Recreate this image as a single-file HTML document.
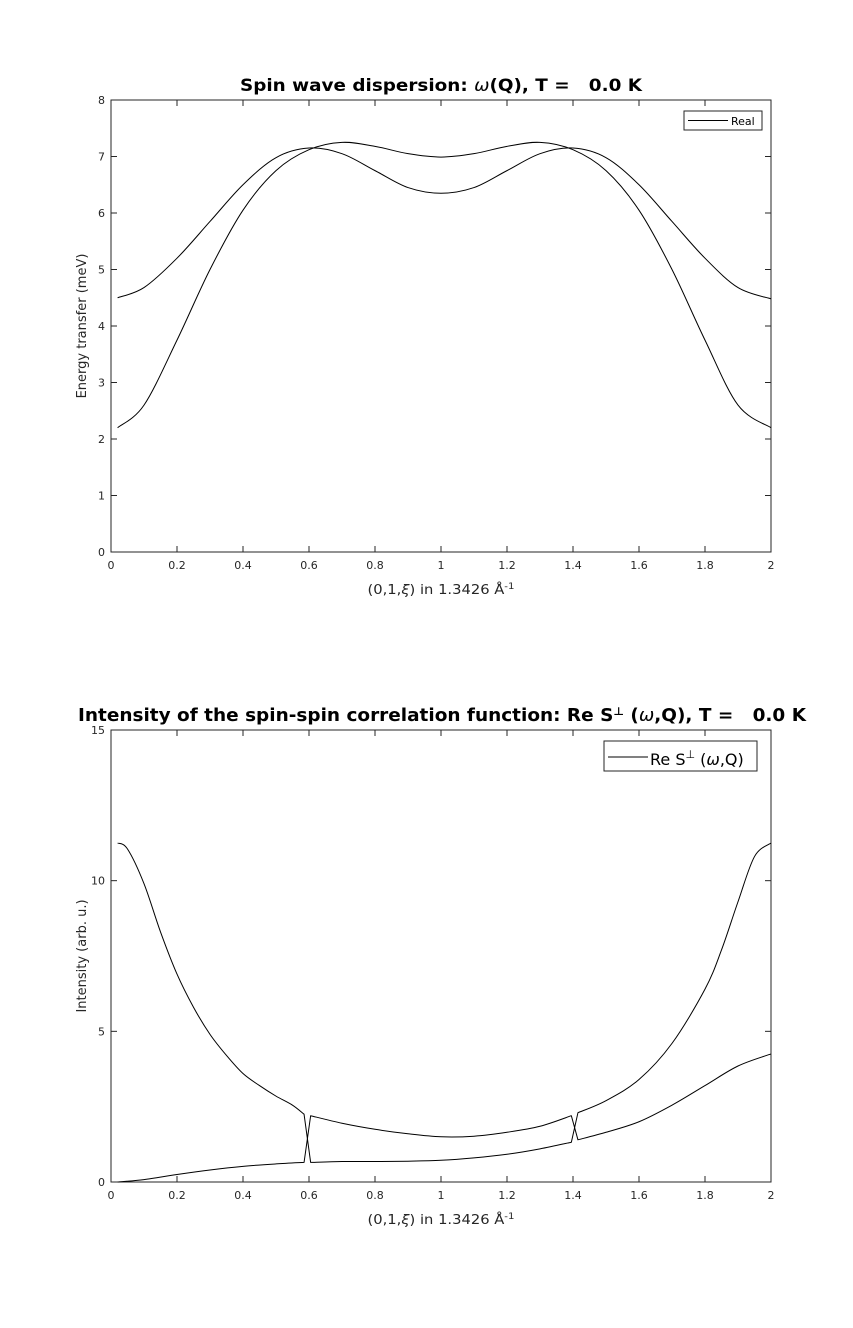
<!DOCTYPE html>
<html><head><meta charset="utf-8"><style>
body{margin:0;background:#fff;}
svg{display:block;font-family:"DejaVu Sans","Liberation Sans",sans-serif;}
text{white-space:pre;}
</style></head><body>
<svg id="fig" width="853" height="1328" viewBox="0 0 853 1328"></svg>
<script>
// Top chart data (dispersion)
const topX = [0.02,0.1,0.2,0.3,0.4,0.5,0.6,0.7,0.8,0.9,1.0,1.1,1.2,1.3,1.4,1.5,1.6,1.7,1.8,1.9,2.0];
const branch1 = [4.5,4.68,5.2,5.85,6.5,6.98,7.15,7.05,6.75,6.45,6.35,6.45,6.75,7.05,7.15,6.98,6.5,5.85,5.2,4.68,4.48];
const branch2 = [2.2,2.6,3.75,5.0,6.05,6.75,7.12,7.25,7.18,7.05,6.99,7.05,7.18,7.25,7.12,6.75,6.05,5.0,3.75,2.6,2.2];
const topXTicks = ["0","0.2","0.4","0.6","0.8","1","1.2","1.4","1.6","1.8","2"];
const topYTicks = ["0","1","2","3","4","5","6","7","8"];
// Bottom chart data (intensity)
const botXA = [0.02,0.05,0.1,0.15,0.2,0.25,0.3,0.35,0.4,0.45,0.5,0.55,0.585,0.605,0.7,0.8,0.9,1.0,1.1,1.2,1.3,1.395,1.415,1.5,1.6,1.7,1.8,1.85,1.9,1.95,2.0];
const seriesA = [11.25,11.05,9.9,8.3,6.9,5.8,4.9,4.2,3.6,3.2,2.85,2.55,2.25,0.65,0.68,0.68,0.69,0.72,0.8,0.92,1.1,1.32,2.3,2.7,3.4,4.6,6.4,7.7,9.3,10.8,11.25];
const botXB = [0.02,0.1,0.2,0.3,0.4,0.5,0.585,0.605,0.7,0.8,0.9,1.0,1.1,1.2,1.3,1.395,1.415,1.5,1.6,1.7,1.8,1.9,2.0];
const seriesB = [0,0.08,0.25,0.4,0.52,0.6,0.65,2.2,1.95,1.75,1.6,1.5,1.52,1.65,1.85,2.2,1.4,1.65,2.0,2.55,3.2,3.85,4.25];
const botYTicks = ["0","5","10","15"];

const NS="http://www.w3.org/2000/svg";
const svg=document.getElementById('fig');
function mk(tag,attrs,parent){const e=document.createElementNS(NS,tag);for(const k in attrs)e.setAttribute(k,attrs[k]);(parent||svg).appendChild(e);return e;}

function smoothSeg(pts){let d=`M${pts[0][0]},${pts[0][1]}`;for(let i=0;i<pts.length-1;i++){const p0=pts[i-1]||pts[i],p1=pts[i],p2=pts[i+1],p3=pts[i+2]||p2;
d+=` C${p1[0]+(p2[0]-p0[0])/6},${p1[1]+(p2[1]-p0[1])/6} ${p2[0]-(p3[0]-p1[0])/6},${p2[1]-(p3[1]-p1[1])/6} ${p2[0]},${p2[1]}`;}return d;}
function jumpPath(xs,ys,sx,sy){let segs=[[]];for(let i=0;i<xs.length;i++){segs[segs.length-1].push([sx(xs[i]),sy(ys[i])]);
  if(i<xs.length-1&&xs[i+1]-xs[i]<0.03)segs.push([]);}
  let d='';segs.forEach((s,k)=>{let p=smoothSeg(s);if(k>0)p='L'+p.slice(1);d+=p+' ';});return d;}

function axes(L,R,T,B,ymax,yTicks,yLabel,title,name){
  const g=mk('g',{});
  
  
  const sx=v=>L+(R-L)*v/2, sy=v=>B-(B-T)*v/ymax;
  const box=mk('rect',{x:L,y:T,width:R-L,height:B-T,fill:'none',stroke:'#262626','stroke-width':1},g);
  
  
  topXTicks.forEach(t=>{const x=sx(parseFloat(t));
    mk('line',{x1:x,y1:B,x2:x,y2:B-6,stroke:'#262626'},g);mk('line',{x1:x,y1:T,x2:x,y2:T+6,stroke:'#262626'},g);
    const tx=mk('text',{x:x,y:B+17,'font-size':11,'text-anchor':'middle',fill:'#262626'},g);tx.textContent=t;
    
    });
  yTicks.forEach(t=>{const y=sy(parseFloat(t));
    mk('line',{x1:L,y1:y,x2:L+6,y2:y,stroke:'#262626'},g);mk('line',{x1:R,y1:y,x2:R-6,y2:y,stroke:'#262626'},g);
    const tx=mk('text',{x:L-6,y:y+4,'font-size':11,'text-anchor':'end',fill:'#262626'},g);tx.textContent=t;
    
    });
  const xl=mk('text',{x:441,y:B+42,'font-size':13,'text-anchor':'middle',fill:'#262626',textLength:147,lengthAdjust:'spacingAndGlyphs'},g);
  xl.innerHTML='(0,1,<tspan font-style="italic">ξ</tspan>) in 1.3426 Å<tspan dy="-5" font-size="9">-1</tspan>';
  
  
  const yl=mk('text',{x:0,y:0,'font-size':13,'text-anchor':'middle',fill:'#262626',transform:`translate(${L-25},${(T+B)/2}) rotate(-90)`},g);
  yl.textContent=yLabel;
  
  
  const tt=mk('text',{x:title[1],y:T-9,'font-size':title[2],'font-weight':'bold','text-anchor':'middle',fill:'#000',textLength:title[3],lengthAdjust:'spacingAndGlyphs'},g);
  tt.innerHTML=title[0];
  
  
  return {sx,sy,g};
}

// top chart
const A1=axes(111,771,100,552,8,topYTicks,'Energy transfer (meV)',['Spin wave dispersion: <tspan font-style="italic" font-weight="normal">ω</tspan>(Q), T =   0.0 K',441,17,402],'dispersion-chart');
[branch1,branch2].forEach((s,i)=>{const p=mk('path',{d:smoothSeg(topX.map((x,j)=>[A1.sx(x),A1.sy(s[j])])),fill:'none',stroke:'#000','stroke-width':1},A1.g);
  
  });
const lg1=mk('g',{},A1.g);


mk('rect',{x:684,y:111,width:78,height:19,fill:'#fff',stroke:'#262626'},lg1);
mk('line',{x1:688,y1:120.5,x2:728,y2:120.5,stroke:'#000'},lg1);
const lt1=mk('text',{x:731,y:125,'font-size':11,fill:'#000'},lg1);lt1.textContent='Real';

// bottom chart
const A2=axes(111,771,730,1182,15,botYTicks,'Intensity (arb. u.)',['Intensity of the spin-spin correlation function: Re S<tspan dy="-6" font-size="11">⊥</tspan><tspan dy="6"> (</tspan><tspan font-style="italic" font-weight="normal">ω</tspan>,Q), T =   0.0 K',442,17.5,728],'intensity-chart');
[[botXA,seriesA],[botXB,seriesB]].forEach((s,i)=>{const p=mk('path',{d:jumpPath(s[0],s[1],A2.sx,A2.sy),fill:'none',stroke:'#000','stroke-width':1,'stroke-linejoin':'round'},A2.g);
  
  });
const lg2=mk('g',{},A2.g);


mk('rect',{x:604,y:741,width:153,height:30,fill:'#fff',stroke:'#262626'},lg2);
mk('line',{x1:608,y1:757,x2:648,y2:757,stroke:'#000'},lg2);
const lt2=mk('text',{x:650,y:765,'font-size':16,fill:'#000'},lg2);
lt2.innerHTML='Re S<tspan dy="-7" font-size="11">⊥</tspan><tspan dy="7"> (</tspan><tspan font-style="italic">ω</tspan>,Q)';
</script>
</body></html>
